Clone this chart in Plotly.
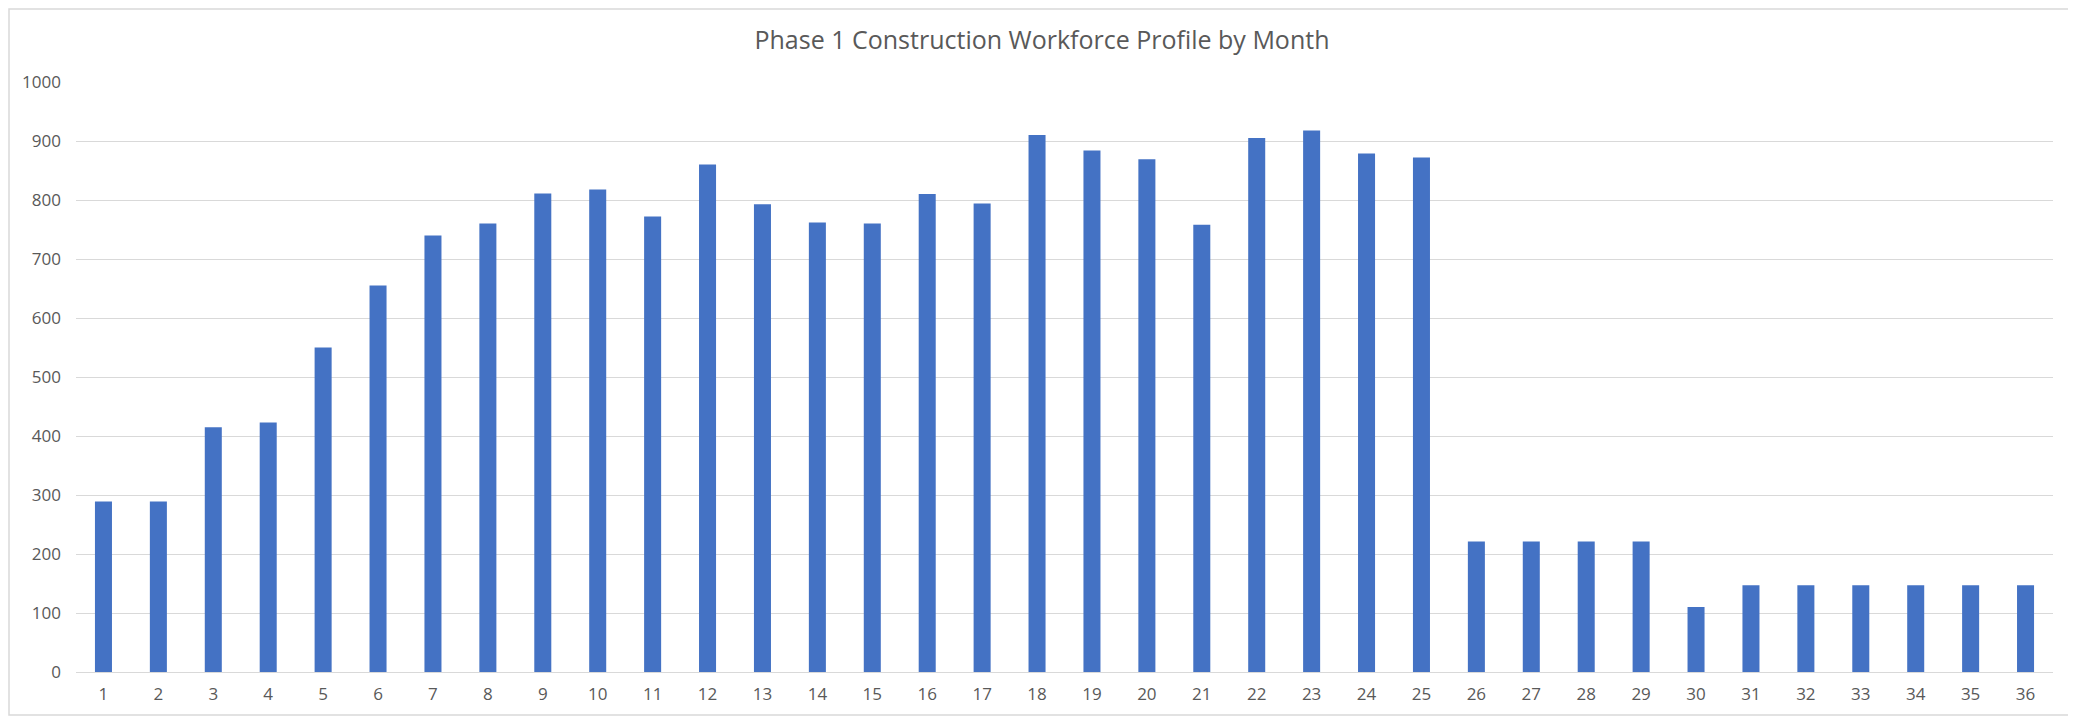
import plotly.graph_objects as go

months = [str(i) for i in range(1, 37)]
workforce = [289, 289, 415, 423, 550, 655, 740, 760, 811, 818, 772, 860,
             793, 762, 760, 810, 794, 910, 884, 869, 758, 905, 918, 879,
             872, 221, 221, 221, 221, 110, 147, 147, 147, 147, 147, 147]
y_ticks = [0, 100, 200, 300, 400, 500, 600, 700, 800, 900, 1000]

# page body has an 8px margin, so the figure is sized to fit the window
W, H = 2068, 709
ML, MR, MT, MB = 68, 23, 74, 45
pw, ph = W - ML - MR, H - MT - MB

fig = go.Figure(go.Bar(x=months, y=workforce, marker=dict(color="#4472C4", line=dict(width=0)),
                       hoverinfo="x+y"))

fig.update_layout(
    width=W, height=H,
    margin=dict(l=ML, r=MR, t=MT, b=MB),
    paper_bgcolor="white", plot_bgcolor="white",
    bargap=0.69,
    showlegend=False,
    font=dict(family="Open Sans", color="#595959"),
    title=dict(text="Phase 1 Construction Workforce Profile by Month",
               x=0.5, xanchor="center", y=1 - 32 / H, yanchor="middle",
               font=dict(family="Open Sans", size=25, color="#595959")),
    xaxis=dict(type="category", showgrid=False, showline=False, zeroline=False,
               tickfont=dict(size=17, color="#595959"), ticks="", ticklabelstandoff=10),
    yaxis=dict(range=[0, 1000], tickvals=y_ticks, showgrid=True, gridcolor="#d9d9d9",
               gridwidth=1.3, zeroline=True, zerolinecolor="#d9d9d9", zerolinewidth=1.3,
               showline=False, tickfont=dict(size=17, color="#595959"), ticks="",
               ticklabelstandoff=14),
    shapes=[dict(type="rect", xref="paper", yref="paper",
                 x0=(1 - ML) / pw, x1=(W - 2 - ML) / pw,
                 y0=-(MB - 2) / ph, y1=1 + (MT - 1) / ph,
                 line=dict(color="#d9d9d9", width=1.5), fillcolor="rgba(0,0,0,0)")],
)

fig.write_html("out.html")
